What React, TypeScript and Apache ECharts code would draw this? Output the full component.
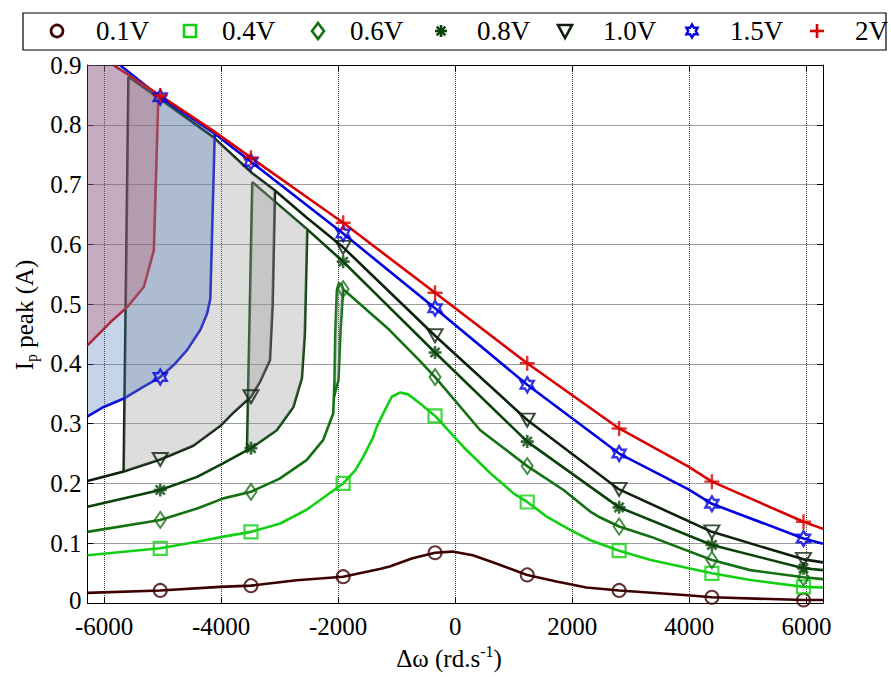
import React, { useEffect, useRef } from 'react';
import * as echarts from 'echarts';

// ---------------- data ----------------
const X_MIN = -6283;
const X_MAX = 6283;
const Y_MIN = 0;
const Y_MAX = 0.9;
const xTickValues = [-6000, -4000, -2000, 0, 2000, 4000, 6000];
const yTickValues = [0, 0.1, 0.2, 0.3, 0.4, 0.5, 0.6, 0.7, 0.8, 0.9];
const legendNames = ['0.1V', '0.4V', '0.6V', '0.8V', '1.0V', '1.5V', '2V'];

const v01Line = [[-6283, 0.017], [-5040, 0.021], [-4020, 0.027], [-3490, 0.029], [-2710, 0.038], [-1915, 0.044], [-1290, 0.057], [-1120, 0.061], [-730, 0.075], [-345, 0.084], [-50, 0.086], [300, 0.08], [700, 0.066], [1230, 0.047], [1730, 0.036], [2240, 0.026], [2800, 0.021], [3970, 0.013], [4385, 0.0095], [5950, 0.005], [6283, 0.005]];
const v01Marks = [[-5040, 0.021], [-3490, 0.029], [-1915, 0.044], [-345, 0.084], [1230, 0.047], [2800, 0.021], [4385, 0.0095], [5950, 0.005]];

const v04Line = [[-6283, 0.08], [-5040, 0.0915], [-4410, 0.1025], [-3960, 0.111], [-3490, 0.119], [-2990, 0.133], [-2540, 0.156], [-1915, 0.2], [-1710, 0.222], [-1570, 0.245], [-1400, 0.278], [-1340, 0.295], [-1200, 0.323], [-1085, 0.345], [-945, 0.352], [-805, 0.349], [-605, 0.334], [-345, 0.313], [140, 0.261], [600, 0.217], [1000, 0.183], [1230, 0.169], [1570, 0.144], [1970, 0.122], [2310, 0.105], [2800, 0.0875], [3340, 0.072], [4385, 0.0497], [5040, 0.0385], [5950, 0.027], [6283, 0.026]];
const v04Marks = [[-5040, 0.0915], [-3490, 0.119], [-1915, 0.2], [-345, 0.313], [1230, 0.169], [2800, 0.0875], [4385, 0.0497], [5950, 0.027]];

const v06Line = [[-6283, 0.119], [-5040, 0.139], [-4410, 0.158], [-3960, 0.175], [-3490, 0.186], [-3000, 0.208], [-2540, 0.239], [-2255, 0.273], [-2085, 0.317], [-2063, 0.37], [-2050, 0.45], [-2022, 0.523], [-1990, 0.535], [-1940, 0.532], [-1915, 0.525], [-1127, 0.457], [-613, 0.406], [-345, 0.378], [427, 0.289], [1230, 0.229], [1850, 0.189], [2306, 0.153], [2477, 0.143], [2800, 0.128], [3336, 0.111], [4385, 0.072], [5039, 0.055], [5950, 0.043], [6283, 0.04]];
const v06Return = [[-1915, 0.525], [-1960, 0.456], [-1995, 0.373], [-2070, 0.345]];
const v06Marks = [[-5040, 0.139], [-3490, 0.186], [-1915, 0.525], [-345, 0.378], [1230, 0.229], [2800, 0.128], [4385, 0.072], [5950, 0.043]];

const v08Lower = [[-6283, 0.161], [-5040, 0.189], [-4410, 0.211], [-3960, 0.234], [-3490, 0.259], [-3050, 0.289], [-2765, 0.328], [-2620, 0.376], [-2570, 0.45], [-2528, 0.625]];
const v08Upper = [[-3558, 0.256], [-3467, 0.704], [-2528, 0.625], [-1915, 0.571], [-345, 0.419], [1230, 0.27], [2800, 0.16], [4385, 0.097], [5950, 0.058], [6283, 0.055]];
const v08Marks = [[-5040, 0.189], [-3490, 0.259], [-1915, 0.571], [-345, 0.419], [1230, 0.27], [2800, 0.16], [4385, 0.097], [5950, 0.058]];

const v10Lower = [[-6283, 0.204], [-5665, 0.22], [-5040, 0.24], [-4476, 0.263], [-4017, 0.296], [-3795, 0.318], [-3490, 0.345], [-3336, 0.37], [-3166, 0.406], [-3120, 0.5], [-3080, 0.69]];
const v10Upper = [[-5665, 0.22], [-5583, 0.88], [-5040, 0.843], [-4130, 0.779], [-3470, 0.719], [-3080, 0.69], [-2540, 0.645], [-1915, 0.595], [-345, 0.447], [1230, 0.306], [2800, 0.19], [4385, 0.119], [5950, 0.073], [6283, 0.068]];
const v10Marks = [[-5040, 0.24], [-3490, 0.345], [-1915, 0.595], [-345, 0.447], [1230, 0.306], [2800, 0.19], [4385, 0.119], [5950, 0.073]];

const v15Lower = [[-6283, 0.312], [-6007, 0.328], [-5665, 0.342], [-5324, 0.362], [-5040, 0.378], [-4811, 0.398], [-4583, 0.423], [-4355, 0.457], [-4241, 0.484], [-4185, 0.509], [-4110, 0.785]];
const v15Upper = [[-5720, 0.899], [-5040, 0.846], [-4110, 0.785], [-3490, 0.738], [-1915, 0.618], [-345, 0.493], [1230, 0.365], [2800, 0.25], [3985, 0.19], [4385, 0.166], [5950, 0.108], [6283, 0.099]];
const v15Marks = [[-5040, 0.846], [-5040, 0.378], [-3490, 0.738], [-1915, 0.618], [-345, 0.493], [1230, 0.365], [2800, 0.25], [4385, 0.166], [5950, 0.108]];

const v20Lower = [[-6283, 0.431], [-5890, 0.47], [-5605, 0.495], [-5320, 0.529], [-5150, 0.59], [-5072, 0.851]];
const v20Upper = [[-5830, 0.899], [-5040, 0.849], [-4150, 0.791], [-3490, 0.745], [-1915, 0.636], [-345, 0.519], [1230, 0.401], [2800, 0.292], [3985, 0.228], [4385, 0.203], [5950, 0.136], [6283, 0.124]];
const v20Marks = [[-5040, 0.849], [-3490, 0.745], [-1915, 0.636], [-345, 0.519], [1230, 0.401], [2800, 0.292], [4385, 0.203], [5950, 0.136]];

// hysteresis loop regions built from the branches above
const loop20 = [...v20Lower, ...v20Upper.filter((p) => p[0] < -5072).reverse(), [X_MIN, Y_MAX]];
const loop15 = [...v15Lower, ...v15Upper.filter((p) => p[0] < -4110).reverse(), [X_MIN, Y_MAX]];
const loop10 = [...v10Lower.filter((p) => p[0] >= -5665), ...v10Upper.filter((p) => p[0] < -3080 && p[1] > 0.5).reverse()];
const loop08 = [v08Upper[0], ...v08Lower.filter((p) => p[0] > -3558), ...v08Upper.filter((p) => p[0] < -2528 && p[1] > 0.5).reverse()];
const loop06 = [...v06Line.filter((p) => p[0] >= -2070 && p[0] <= -1915), ...v06Return.slice(1, 3)];

// ---------------- styles ----------------
const FONT = "'Liberation Serif', 'Times New Roman', 'DejaVu Serif', serif";
const C01 = '#3d0000';
const C04 = '#12cf12';
const C06 = '#137013';
const C08 = '#0a430a';
const C10 = '#0c200c';
const C15 = '#0000e0';
const C20 = '#d80000';

const FILL_GRAY = 'rgba(150,150,150,0.32)';
const FILL_BLUE = 'rgba(62,112,178,0.3)';
const FILL_RED = 'rgba(194,82,99,0.3)';

const HEX_PATH = 'path://M5,0L6.443,2.5L9.33,2.5L7.887,5L9.33,7.5L6.443,7.5L5,10L3.557,7.5L0.67,7.5L2.113,5L0.67,2.5L3.557,2.5Z';
const AST_PATH = 'path://M5,0L5,10M0,5L10,5M1.46,1.46L8.54,8.54M1.46,8.54L8.54,1.46';
const PLUS_PATH = 'path://M5,0L5,10M0,5L10,5';
const DIAMOND_PATH = 'path://M5,0L10,7L5,14L0,7Z';
const TRI_PATH = 'path://M0,0L10,0L5,9Z';

function lineSeries(name: string, data: number[][], color: string) {
  return {
    type: 'line', name, data, showSymbol: false, symbol: 'none',
    lineStyle: { color, width: 2.6 }, itemStyle: { color },
    z: 2, silent: true, clip: true,
  };
}

function markerSeries(name: string, data: number[][], color: string, symbol: string, size: any, bw = 2) {
  return {
    type: 'scatter', name, data, symbol, symbolSize: size,
    itemStyle: { color: 'rgba(0,0,0,0)', borderColor: color, borderWidth: bw },
    z: 4, silent: true,
  };
}

function fillSeries(name: string, data: number[][], fill: string) {
  return {
    type: 'custom', name, data, z: 3, silent: true, clip: true,
    renderItem: (params: any, api: any) => {
      if (params.dataIndex !== 0) return null;
      const pts = data.map((p) => api.coord(p));
      return { type: 'polygon', shape: { points: pts }, style: { fill, stroke: 'none' } };
    },
  };
}

function legendGraphics() {
  const cy = 31;
  const mx = [57, 190, 318, 441, 565, 692, 817];
  const tx = [96, 222, 350, 477, 603, 730, 855];
  const cols = [C01, C04, C06, C08, C10, C15, C20];
  const els: any[] = [];
  els.push({
    type: 'rect', shape: { x: 23, y: 13, width: 863, height: 37 },
    style: { fill: '#fff', stroke: '#000', lineWidth: 1.2 }, z: 100,
  });
  const seg = (x1: number, y1: number, x2: number, y2: number, c: string) => ({
    type: 'line', z: 101, shape: { x1, y1, x2, y2 }, style: { stroke: c, lineWidth: 2.6 },
  });
  legendNames.forEach((n, i) => {
    const cx = mx[i];
    const c = cols[i];
    const st = { fill: 'none', stroke: c, lineWidth: 2.6 };
    if (i === 0) els.push({ type: 'circle', z: 101, shape: { cx, cy, r: 6 }, style: st });
    else if (i === 1) els.push({ type: 'rect', z: 101, shape: { x: cx - 6, y: cy - 6, width: 12, height: 12 }, style: st });
    else if (i === 2) els.push({ type: 'polygon', z: 101, shape: { points: [[cx, cy - 8], [cx + 6, cy], [cx, cy + 8], [cx - 6, cy]] }, style: st });
    else if (i === 3) {
      const r = 6, d = 4.3;
      els.push(seg(cx, cy - r, cx, cy + r, c));
      els.push(seg(cx - r, cy, cx + r, cy, c));
      els.push(seg(cx - d, cy - d, cx + d, cy + d, c));
      els.push(seg(cx - d, cy + d, cx + d, cy - d, c));
    } else if (i === 4) els.push({ type: 'polygon', z: 101, shape: { points: [[cx - 7, cy - 6], [cx + 7, cy - 6], [cx, cy + 7]] }, style: st });
    else if (i === 5) {
      const pts: number[][] = [];
      for (let k = 0; k < 12; k++) {
        const ang = -Math.PI / 2 + (k * Math.PI) / 6;
        const rr = k % 2 === 0 ? 6.5 : 6.5 / Math.sqrt(3);
        pts.push([cx + rr * Math.cos(ang), cy + rr * Math.sin(ang)]);
      }
      els.push({ type: 'polygon', z: 101, shape: { points: pts }, style: { fill: 'none', stroke: c, lineWidth: 2.4 } });
    } else {
      els.push(seg(cx, cy - 7, cx, cy + 7, c));
      els.push(seg(cx - 7, cy, cx + 7, cy, c));
    }
    els.push({
      type: 'text', x: tx[i], y: cy, z: 101,
      style: { text: n, fontSize: 27, fontFamily: FONT, fill: '#000', align: 'left', verticalAlign: 'middle' },
    });
  });
  // axis titles
  els.push({
    type: 'text', x: 449, y: 658, z: 101,
    style: {
      text: '{a|Δω (rd.s}{p|-1}{a|)}', align: 'center', verticalAlign: 'middle', fill: '#000',
      rich: {
        a: { fontSize: 25, fontFamily: FONT, fill: '#000', lineHeight: 30 },
        p: { fontSize: 16, fontFamily: FONT, fill: '#000', lineHeight: 16, verticalAlign: 'top' },
      },
    },
  });
  els.push({
    type: 'text', x: 24, y: 315, rotation: Math.PI / 2, z: 101,
    style: {
      text: '{a|I}{s|p}{a| peak (A)}', align: 'center', verticalAlign: 'middle', fill: '#000',
      rich: {
        a: { fontSize: 25, fontFamily: FONT, fill: '#000', lineHeight: 30 },
        s: { fontSize: 16, fontFamily: FONT, fill: '#000', lineHeight: 16, verticalAlign: 'bottom' },
      },
    },
  });
  return els;
}

function buildOption() {
  const axisLine = { show: true, onZero: false, lineStyle: { color: '#000', width: 1 } };
  const axisTick = { show: true, inside: true, length: 6, lineStyle: { color: '#000', width: 1 } };
  const splitLine = { show: true, lineStyle: { color: '#3a3a3a', type: [1, 1], width: 1 } };
  const xFmt = (v: number) => (xTickValues.indexOf(Math.round(v)) >= 0 && Math.abs(v - Math.round(v)) < 1e-6 ? String(Math.round(v)) : '');
  const yFmt = (v: number) => {
    const r = Math.round(v * 10) / 10;
    if (r === 0) return '{z|0}';
    return yTickValues.indexOf(r) >= 0 ? String(r) : '';
  };
  return {
    animation: false,
    backgroundColor: '#fff',
    grid: { left: 87.5, right: 68, top: 65, bottom: 74, containLabel: false, outerBoundsMode: 'none' },
    xAxis: [
      {
        type: 'value', min: X_MIN, max: X_MAX, splitNumber: 6, position: 'bottom',
        axisLine, axisTick, splitLine,
        axisLabel: { formatter: xFmt, fontSize: 25, lineHeight: 20, fontFamily: FONT, color: '#000', margin: 13, hideOverlap: false },
      },
      {
        type: 'value', min: X_MIN, max: X_MAX, splitNumber: 6, position: 'top',
        axisLine, axisTick, splitLine: { show: false }, axisLabel: { show: false },
      },
    ],
    yAxis: [
      {
        type: 'value', min: Y_MIN, max: Y_MAX, interval: 0.1, position: 'left',
        axisLine, axisTick, splitLine,
        axisLabel: {
          formatter: yFmt, fontSize: 25, lineHeight: 20, fontFamily: FONT, color: '#000', margin: 6, hideOverlap: false,
          rich: { z: { fontSize: 25, lineHeight: 20, fontFamily: FONT, color: '#000', padding: [0, 0, 6, 0] } },
        },
      },
      {
        type: 'value', min: Y_MIN, max: Y_MAX, interval: 0.1, position: 'right',
        axisLine, axisTick, splitLine: { show: false }, axisLabel: { show: false },
      },
    ],
    graphic: legendGraphics(),
    series: [
      lineSeries('0.1V', v01Line, C01),
      lineSeries('0.4V', v04Line, C04),
      lineSeries('0.6V', v06Line, C06),
      lineSeries('0.6V return', v06Return, C06),
      lineSeries('0.8V lower', v08Lower, C08),
      lineSeries('0.8V', v08Upper, C08),
      lineSeries('1.0V lower', v10Lower, C10),
      lineSeries('1.0V', v10Upper, C10),
      lineSeries('1.5V lower', v15Lower, C15),
      lineSeries('1.5V', v15Upper, C15),
      lineSeries('2V lower', v20Lower, C20),
      lineSeries('2V', v20Upper, C20),
      fillSeries('loop 0.6V', loop06, FILL_GRAY),
      fillSeries('loop 0.8V', loop08, FILL_GRAY),
      fillSeries('loop 1.0V', loop10, FILL_GRAY),
      fillSeries('loop 1.5V', loop15, FILL_BLUE),
      fillSeries('loop 2V', loop20, FILL_RED),
      markerSeries('0.1V markers', v01Marks, C01, 'circle', 13),
      markerSeries('0.4V markers', v04Marks, C04, 'rect', 13, 2.2),
      markerSeries('0.6V markers', v06Marks, C06, DIAMOND_PATH, [11, 16]),
      markerSeries('0.8V markers', v08Marks, C08, AST_PATH, 13, 2.6),
      markerSeries('1.0V markers', v10Marks, C10, TRI_PATH, [15, 13]),
      markerSeries('1.5V markers', v15Marks, C15, HEX_PATH, [13, 15], 2.4),
      markerSeries('2V markers', v20Marks, C20, PLUS_PATH, 15, 2.4),
    ],
  };
}

export default function App() {
  const ref = useRef<HTMLDivElement>(null);
  useEffect(() => {
    if (!ref.current) return;
    const chart = echarts.init(ref.current, null, { renderer: 'svg' });
    chart.setOption(buildOption() as any);
    return () => chart.dispose();
  }, []);
  return (
    <div
      ref={ref}
      style={{ position: 'absolute', left: 0, top: 0, width: 891, height: 677, background: '#fff' }}
    />
  );
}
